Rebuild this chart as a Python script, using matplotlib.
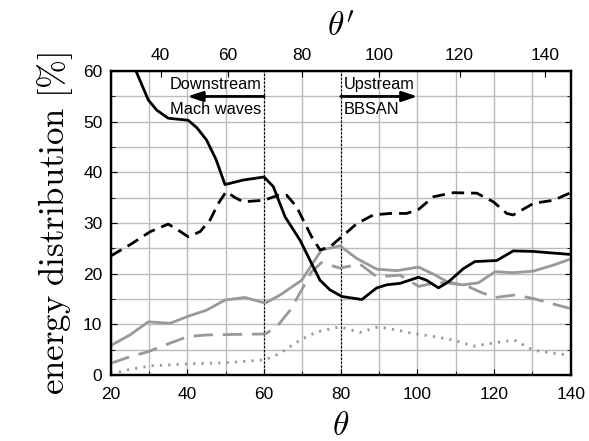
import matplotlib
matplotlib.use("Agg")
import matplotlib.pyplot as plt
import numpy as np

plt.rcParams["font.family"] = ["Liberation Sans", "DejaVu Sans"]
plt.rcParams["mathtext.fontset"] = "cm"

# black solid
th_a = [20, 24, 26.6, 29.8, 32, 35, 40.2, 42.5, 45, 47.5, 49.8, 54.6, 60, 62.4, 65.5, 69.4,
        72.4, 74.6, 77.2, 80.3, 85.5, 89.4, 92, 95.5, 100.3, 102.4, 105.5, 108.1, 112,
        115, 120.7, 125, 130.2, 135, 140]
e_a = [72, 64, 60, 54.3, 52.3, 50.7, 50.3, 48.8, 46.4, 42.5, 37.6, 38.5, 39.1, 37.2, 31.2, 26.6,
       22.0, 18.7, 16.8, 15.5, 14.9, 17.2, 17.8, 18.1, 19.3, 18.7, 17.2, 18.4, 21.0,
       22.4, 22.6, 24.5, 24.4, 24.1, 23.8]

# black dashed
th_b = [20, 25, 30.3, 35, 37.6, 40.2, 43.3, 45.9, 48.1, 50.1, 52.5, 54.6, 60, 63.7, 65.9,
        68.5, 70.2, 72.4, 74.6, 77.2, 79.8, 84.2, 88.5, 92.9, 97.2, 100.3, 104.2, 109.4,
        115.5, 119.8, 123.3, 125, 130.3, 135.5, 140]
e_b = [23.5, 25.7, 28.3, 29.8, 28.6, 27.3, 28.3, 30.6, 33.9, 36.2, 35.0, 34.2, 34.5, 35.5, 35.5,
       33.2, 30.6, 27.3, 24.7, 25.3, 27.0, 29.9, 31.6, 31.9, 31.9, 32.7, 35.2, 36.0,
       35.9, 34.2, 31.9, 31.6, 33.9, 34.5, 36.0]

# grey solid
th_c = [20, 25, 29.8, 35.5, 40.2, 45, 49.8, 55, 60.3, 64.2, 69.8, 72.4, 75, 79.8, 84.2,
        89.4, 94.6, 100.3, 104.2, 108.5, 112, 115.9, 120.3, 125, 130.2, 135.5, 140]
e_c = [5.8, 7.9, 10.5, 10.2, 11.6, 12.8, 14.8, 15.3, 14.2, 15.8, 18.7, 21.7, 24.7, 25.5, 23.0,
       20.9, 20.6, 21.3, 19.9, 18.1, 17.8, 18.2, 20.4, 20.2, 20.5, 21.7, 22.9]

# grey dashed
th_d = [20, 25, 29.8, 35.5, 40.2, 45, 52, 60.3, 63.3, 66.8, 69.8, 72.4, 75, 79.8, 85,
        89.4, 95.5, 100.3, 104.2, 108.5, 112.9, 116.3, 120.3, 125.5, 130.2, 135.5, 140]
e_d = [2.3, 3.6, 4.6, 6.3, 7.6, 7.9, 8.0, 8.1, 9.5, 12.8, 16.8, 20.4, 22.2, 21.1, 21.9,
       19.4, 19.7, 17.5, 18.1, 18.3, 17.6, 16.4, 15.3, 15.8, 15.1, 14.0, 13.1]

# grey dotted
th_e = [20, 25, 30.3, 40.2, 49.4, 60.3, 64.2, 69.4, 73.7, 79.8, 85, 89.8, 94.6, 98.1,
        104.2, 109.4, 114.6, 119.8, 125.3, 130.2, 135.5, 140]
e_e = [0.2, 1.1, 1.8, 2.2, 2.4, 3.0, 4.3, 6.9, 8.5, 9.5, 8.4, 9.5, 8.9, 8.3,
       7.6, 6.9, 5.7, 6.3, 6.9, 4.9, 4.3, 3.9]

# top axis: theta' values and where they fall on theta
theta_prime = [40, 60, 80, 100, 120, 140]
theta_prime_at = [33.0, 50.5, 69.8, 90.1, 111.0, 133.4]

fig = plt.figure(figsize=(5.89, 4.41), dpi=100)
ax = fig.add_axes([0.188, 0.1497, 0.781, 0.689])

grey = "#999999"
kw = dict(lw=2, solid_joinstyle="round", dash_joinstyle="round")
ax.plot(th_a, e_a, color="black", zorder=5, **kw)
ax.plot(th_b, e_b, color="black", dashes=(4.5, 2.5), zorder=5, **kw)
ax.plot(th_c, e_c, color=grey, zorder=4, **kw)
ax.plot(th_d, e_d, color=grey, dashes=(7, 3.5), zorder=4, **kw)
ax.plot(th_e, e_e, color=grey, dashes=(0.8, 2.2), zorder=4, **kw)

ax.set_xlim(20, 140)
ax.set_ylim(0, 60)
ax.set_xticks(np.arange(20, 141, 20))
ax.set_xticks(np.arange(20, 141, 10), minor=True)
ax.set_yticks(np.arange(0, 61, 10))
ax.set_yticks(np.arange(0, 61, 5), minor=True)
ax.grid(which="both", color="#bbbbbb", lw=1, zorder=0)
ax.tick_params(which="both", direction="in", top=False, right=True, labelsize=12.5, length=4)
ax.tick_params(axis="x", pad=9)
ax.tick_params(axis="y", pad=6)
ax.tick_params(which="minor", length=3)
for s in ax.spines.values():
    s.set_linewidth(1.6)

# region markers
for xv in (60, 80):
    ax.axvline(xv, color="black", lw=0.8, ls=(0, (2, 1.5)), zorder=3)
arrow = dict(arrowstyle="-|>,head_length=0.9,head_width=0.3", color="black", lw=2,
             shrinkA=0, shrinkB=0)
ax.annotate("", xy=(40, 55), xytext=(60, 55), arrowprops=arrow, zorder=6)
ax.annotate("", xy=(100, 55), xytext=(80, 55), arrowprops=arrow, zorder=6)
ax.text(59.3, 57.3, "Downstream", ha="right", va="center", fontsize=11.8)
ax.text(59.3, 52.4, "Mach waves", ha="right", va="center", fontsize=11.8)
ax.text(80.7, 57.3, "Upstream", ha="left", va="center", fontsize=11.8)
ax.text(80.7, 52.4, "BBSAN", ha="left", va="center", fontsize=11.8)

ax.set_xlabel(r"$\theta$", fontsize=24, labelpad=6)
ax.set_ylabel(r"$\mathrm{energy\ distribution\ [\%]}$", fontsize=25, labelpad=6)

ax2 = ax.twiny()
ax2.set_xlim(ax.get_xlim())
ax2.set_xticks(theta_prime_at)
ax2.set_xticklabels([str(v) for v in theta_prime])
ax2.tick_params(direction="in", labelsize=12.5, length=4, pad=6)
ax2.set_xlabel(r"$\theta'$", fontsize=24, labelpad=8)
for s in ax2.spines.values():
    s.set_linewidth(1.6)

fig.savefig("out.png", dpi=100)
